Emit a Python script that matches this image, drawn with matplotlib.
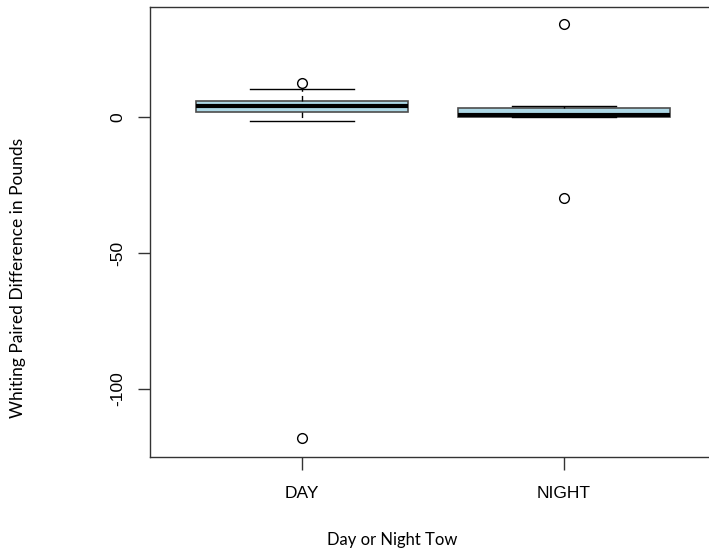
import matplotlib
matplotlib.use("Agg")
import matplotlib.pyplot as plt

# Box summary for each tow group (pounds)
groups = ["DAY", "NIGHT"]
whisker_low = [-1.4, -0.2]
quartile_1 = [1.8, 0.1]
medians = [4.1, 0.8]
quartile_3 = [5.9, 3.2]
whisker_high = [10.3, 4.0]
outliers = [[12.5, -118.0], [34.0, -29.8]]

y_ticks = [0, -50, -100]

stats = []
for i, name in enumerate(groups):
    stats.append({
        "label": name,
        "whislo": whisker_low[i],
        "q1": quartile_1[i],
        "med": medians[i],
        "q3": quartile_3[i],
        "whishi": whisker_high[i],
        "fliers": outliers[i],
    })

fig = plt.figure(figsize=(7.09, 5.52), dpi=100)
ax = fig.add_axes([150 / 709, 95 / 552, 566 / 709, 450 / 552])

ax.bxp(
    stats,
    positions=[1, 2],
    widths=0.81,
    patch_artist=True,
    boxprops=dict(facecolor="#add8e6", edgecolor="#4d4d4d", linewidth=1.2),
    medianprops=dict(color="black", linewidth=3),
    whiskerprops=dict(color="black", linewidth=1, linestyle=(0, (4, 3))),
    capprops=dict(color="black", linewidth=1),
    capwidths=0.4,
    flierprops=dict(marker="o", markerfacecolor="none", markeredgecolor="black",
                    markersize=7, markeredgewidth=1),
)

ax.set_xlim(0.42, 2.58)
ax.set_ylim(-125, 40.4)
ax.set_yticks(y_ticks)
ax.set_yticklabels([str(t) for t in y_ticks], rotation=90, va="center",
                   fontsize=12.5, family="Liberation Sans")
ax.set_xticks([1, 2])
ax.set_xticklabels(groups, fontsize=12.5, family="Liberation Sans")
ax.tick_params(length=9, width=1, color="#333333", pad=12)
ax.tick_params(axis="y", pad=9)
for s in ax.spines.values():
    s.set_color("#333333")
    s.set_linewidth(1)

fig.text(18 / 709, 1 - 278 / 552, "Whiting Paired Difference in Pounds",
         rotation=90, ha="center", va="center", fontsize=12.5, family="Lato")
fig.text(392 / 709, 1 - 540 / 552, "Day or Night Tow", ha="center",
         va="center", fontsize=12, family="Lato")

fig.savefig("out.png", dpi=100)
